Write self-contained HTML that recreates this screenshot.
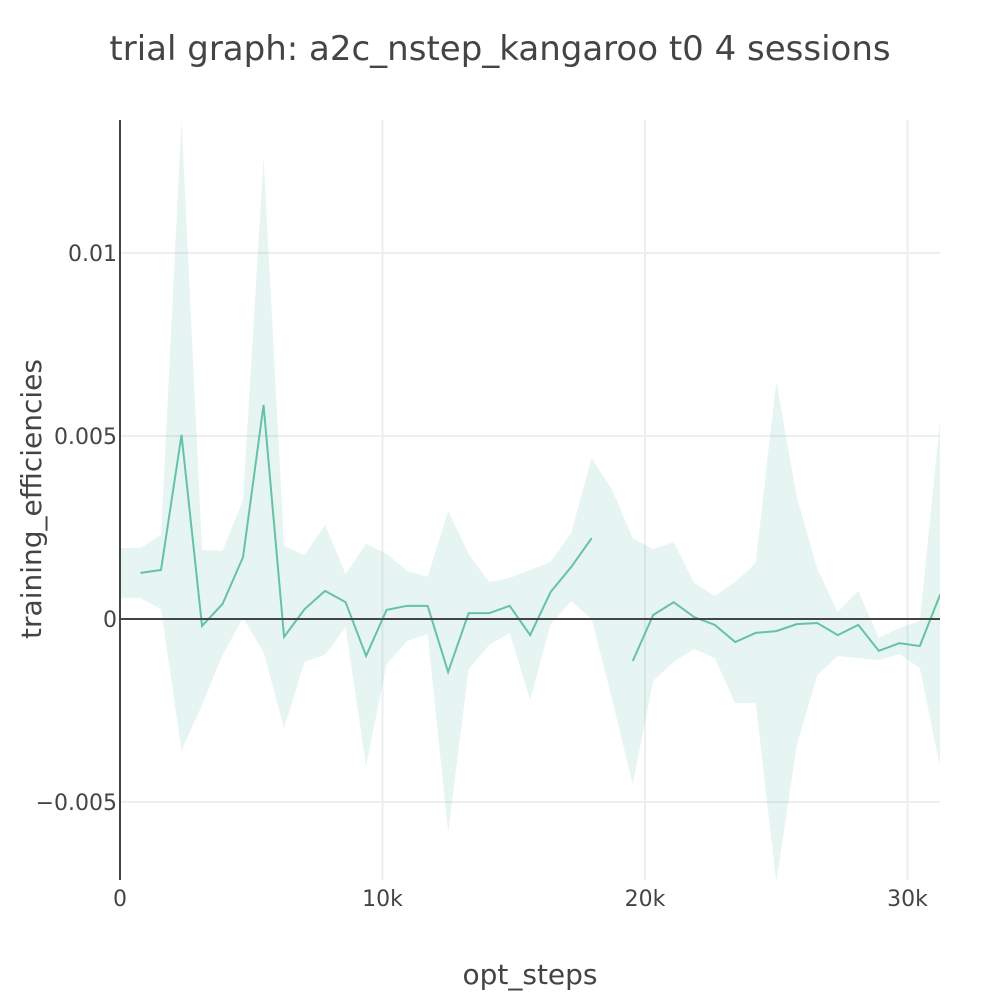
<!DOCTYPE html>
<html><head><meta charset="utf-8"><style>
body{margin:0;background:#fff;font-family:"Liberation Sans","DejaVu Sans",sans-serif;}
svg text{font-family:"DejaVu Sans","Liberation Sans",sans-serif;fill:#444;}
</style></head><body>
<svg id="chart" width="1000" height="1000" xmlns="http://www.w3.org/2000/svg">
<text x="500" y="60" text-anchor="middle" font-size="34">trial graph: a2c_nstep_kangaroo t0 4 sessions</text>
<g id="grid"></g>
<clipPath id="clip"><rect x="120" y="120" width="820" height="760"/></clipPath>
<g id="marks" clip-path="url(#clip)"></g>
<g id="axes"></g>
<text x="530" y="984" text-anchor="middle" font-size="28">opt_steps</text>
<text transform="translate(41,499) rotate(-90)" text-anchor="middle" font-size="28">training_efficiencies</text>
</svg>
<script>
const stepSize = 781.25;
const meanVals = [null,0.00126,0.00134,0.00503,-0.00019,0.00041,0.00169,0.00585,-0.00049,0.00027,0.00077,0.00046,-0.00101,0.00025,0.00036,0.00036,-0.00145,0.00016,0.00016,0.00036,-0.00044,0.00074,0.00142,0.00221,null,-0.00115,0.00011,0.00046,0.00005,-0.00016,-0.00063,-0.00038,-0.00033,-0.00014,-0.00011,-0.00044,-0.00016,-0.00087,-0.00066,-0.00074,0.00068];
const upperVals = [0.00194,0.00194,0.00230,0.01363,0.00189,0.00186,0.00325,0.01260,0.00199,0.00175,0.00257,0.00123,0.00205,0.00178,0.00131,0.00115,0.00295,0.00178,0.00101,0.00112,0.00134,0.00156,0.00235,0.00440,0.00352,0.00221,0.00191,0.00210,0.00098,0.00063,0.00101,0.00153,0.00650,0.00333,0.00137,0.00019,0.00077,-0.00052,-0.00025,-0.00005,0.00549];
const lowerVals = [0.00057,0.00057,0.00027,-0.00358,-0.00235,-0.00098,0.00003,-0.00090,-0.00298,-0.00117,-0.00098,-0.00022,-0.00402,-0.00123,-0.00060,-0.00041,-0.00582,-0.00137,-0.00071,-0.00038,-0.00221,-0.00014,0.00049,0.00000,-0.00221,-0.00451,-0.00169,-0.00117,-0.00082,-0.00107,-0.00230,-0.00230,-0.00720,-0.00344,-0.00153,-0.00101,-0.00107,-0.00112,-0.00096,-0.00134,-0.00407];
const xTicks = [0,10000,20000,30000];
const xTickLabels = ["0","10k","20k","30k"];
const yTicks = [-0.005,0,0.005,0.01];
const yTickLabels = ["−0.005","0","0.005","0.01"];

const NS="http://www.w3.org/2000/svg";
const X = v => 120 + v*0.02625;
const Y = v => 619 - v*36600;
const xs = meanVals.map((_,i)=>i*stepSize);
function mk(tag,attrs,parent){const e=document.createElementNS(NS,tag);for(const k in attrs)e.setAttribute(k,attrs[k]);parent.appendChild(e);return e;}
const grid=document.getElementById('grid'),marks=document.getElementById('marks'),axes=document.getElementById('axes');
xTicks.forEach((t,i)=>{
  if(t>0){const l=mk('line',{x1:X(t),x2:X(t),y1:120,y2:880,stroke:'#eee','stroke-width':2},grid);
  
  }
  const tx=mk('text',{x:X(t),y:906,'text-anchor':'middle','font-size':22},axes);tx.textContent=xTickLabels[i];
  
  
});
yTicks.forEach((t,i)=>{
  if(t!==0){const l=mk('line',{x1:120,x2:940,y1:Y(t),y2:Y(t),stroke:'#eee','stroke-width':2},grid);
  
  }
  const tx=mk('text',{x:117,y:Y(t)+8,'text-anchor':'end','font-size':22},axes);tx.textContent=yTickLabels[i];
  
  
});
let bp=xs.map((x,i)=>X(x)+','+Y(upperVals[i])).join(' ')+' '+xs.map((x,i)=>X(x)+','+Y(lowerVals[i])).reverse().join(' ');
const band=mk('polygon',{points:bp,fill:'rgba(102,194,165,0.16)'},marks);


let segs=[],cur=[];
meanVals.forEach((v,i)=>{if(v===null){if(cur.length)segs.push(cur);cur=[];}else cur.push(X(xs[i])+','+Y(v));});
if(cur.length)segs.push(cur);
segs.forEach(s=>{const p=mk('polyline',{points:s.join(' '),fill:'none',stroke:'#66c2a5','stroke-width':2},marks);
  
  });
const z=mk('line',{x1:120,x2:940,y1:Y(0),y2:Y(0),stroke:'#444','stroke-width':2},axes);


const ya=mk('line',{x1:120,x2:120,y1:120,y2:880,stroke:'#444','stroke-width':2},axes);


</script>
</body></html>
